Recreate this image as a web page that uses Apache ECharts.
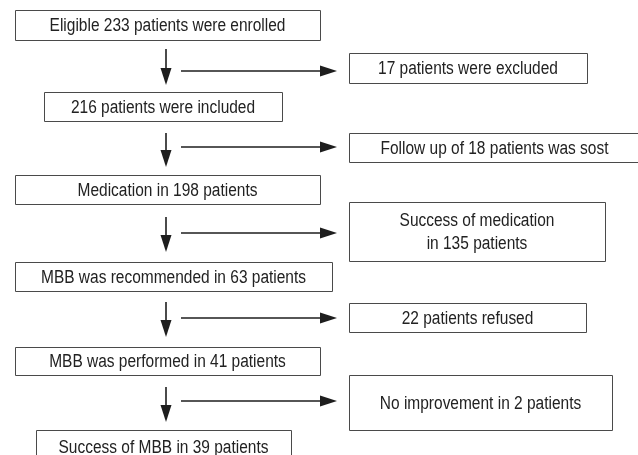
<!DOCTYPE html>
<html>
<head>
<meta charset="utf-8">
<script src="https://cdn.jsdelivr.net/npm/echarts@6/dist/echarts.min.js"></script>
<style>
  html, body { margin: 0; padding: 0; background: #fff; }
  #container { width: 638px; height: 455px; }
</style>
</head>
<body>
<div id="container"></div>
<script>
// flow steps (main column) and the patients who left at each step
var mainSteps = [
    'Eligible 233 patients were enrolled',
    '216 patients were included',
    'Medication in 198 patients',
    'MBB was recommended in 63 patients',
    'MBB was performed in 41 patients',
    'Success of MBB in 39 patients'
];
var sideSteps = [
    '17 patients were excluded',
    'Follow up of 18 patients was sost',
    'Success of medication\nin 135 patients',
    '22 patients refused',
    'No improvement in 2 patients'
];

// layout in pixel units: [x1, x2, y1, y2]
var mainBoxes = [
    [15, 320, 10, 40],
    [44, 282, 92, 121],
    [15, 320, 175, 204],
    [15, 332, 262, 291],
    [15, 320, 347, 375],
    [36, 291, 430, 464]
];
var sideBoxes = [
    [349, 587, 53, 83],
    [349, 640, 133, 162],
    [349, 605, 202, 261],
    [349, 586, 303, 332],
    [349, 612, 375, 430]
];
// vertical arrows: [x, yStart, yTip]; branch arrows: [y, xStart, xTip]
var downArrows = [
    [166, 49, 85],
    [166, 133, 167],
    [166, 217, 252],
    [166, 302, 337],
    [166, 387, 422]
];
var sideArrows = [
    [71, 181, 337],
    [147, 181, 337],
    [233, 181, 337],
    [318, 181, 337],
    [401, 181, 337]
];

var chart = echarts.init(document.getElementById('container'));

// the original uses a condensed face, so squeeze a regular one
var textFont = '18px Liberation Sans, Arial, sans-serif';
var squeeze = 0.86;
var lineColor = '#1e1e1e';

function boxItem(boxes, texts) {
    return function (params, api) {
        var b = boxes[params.dataIndex];
        var p1 = api.coord([b[0], b[2]]);
        var p2 = api.coord([b[1], b[3]]);
        var midY = (p1[1] + Math.min(p2[1], api.getHeight() + 8)) / 2;
        return {
            type: 'group',
            children: [{
                type: 'rect',
                shape: {
                    x: Math.round(p1[0]) + 0.5,
                    y: Math.round(p1[1]) + 0.5,
                    width: Math.round(p2[0] - p1[0]),
                    height: Math.round(p2[1] - p1[1])
                },
                style: { fill: '#fff', stroke: '#4a4a4a', lineWidth: 1 }
            }, {
                type: 'text',
                x: (p1[0] + p2[0]) / 2,
                y: midY + 1.5,
                scaleX: squeeze,
                style: {
                    text: texts[params.dataIndex],
                    fill: '#222',
                    font: textFont,
                    align: 'center',
                    verticalAlign: 'middle',
                    lineHeight: 23
                }
            }]
        };
    };
}

function arrowItem(list, vertical) {
    return function (params, api) {
        var a = list[params.dataIndex];
        var s, t;
        if (vertical) {
            s = api.coord([a[0], a[1]]);
            t = api.coord([a[0], a[2]]);
        } else {
            s = api.coord([a[1], a[0]]);
            t = api.coord([a[2], a[0]]);
        }
        var headLen = 17, headHalf = 5.5;
        var pts, lineEnd;
        if (vertical) {
            lineEnd = [s[0], t[1] - headLen + 1];
            pts = [[t[0] - headHalf, t[1] - headLen], [t[0] + headHalf, t[1] - headLen], [t[0], t[1]]];
        } else {
            lineEnd = [t[0] - headLen + 1, s[1]];
            pts = [[t[0] - headLen, t[1] - headHalf], [t[0] - headLen, t[1] + headHalf], [t[0], t[1]]];
        }
        return {
            type: 'group',
            children: [{
                type: 'line',
                shape: { x1: s[0], y1: s[1], x2: lineEnd[0], y2: lineEnd[1] },
                style: { stroke: lineColor, lineWidth: 1.6 }
            }, {
                type: 'polygon',
                shape: { points: pts },
                style: { fill: lineColor }
            }]
        };
    };
}

var option = {
    animation: false,
    grid: { left: 0, right: 0, top: 0, bottom: 0 },
    xAxis: { type: 'value', min: 0, max: 638, show: false },
    yAxis: { type: 'value', min: 0, max: 455, inverse: true, show: false },
    series: [{
        type: 'custom',
        renderItem: arrowItem(downArrows, true),
        data: downArrows.map(function (a) { return [a[0], a[1]]; }),
        silent: true
    }, {
        type: 'custom',
        renderItem: arrowItem(sideArrows, false),
        data: sideArrows.map(function (a) { return [a[1], a[0]]; }),
        silent: true
    }, {
        type: 'custom',
        renderItem: boxItem(mainBoxes, mainSteps),
        data: mainBoxes.map(function (b) { return [b[0], b[2]]; }),
        clip: false,
        silent: true
    }, {
        type: 'custom',
        renderItem: boxItem(sideBoxes, sideSteps),
        data: sideBoxes.map(function (b) { return [b[0], b[2]]; }),
        clip: false,
        silent: true
    }]
};
chart.setOption(option);

window.addEventListener('resize', function () {
    chart.resize();
});
</script>
</body>
</html>
